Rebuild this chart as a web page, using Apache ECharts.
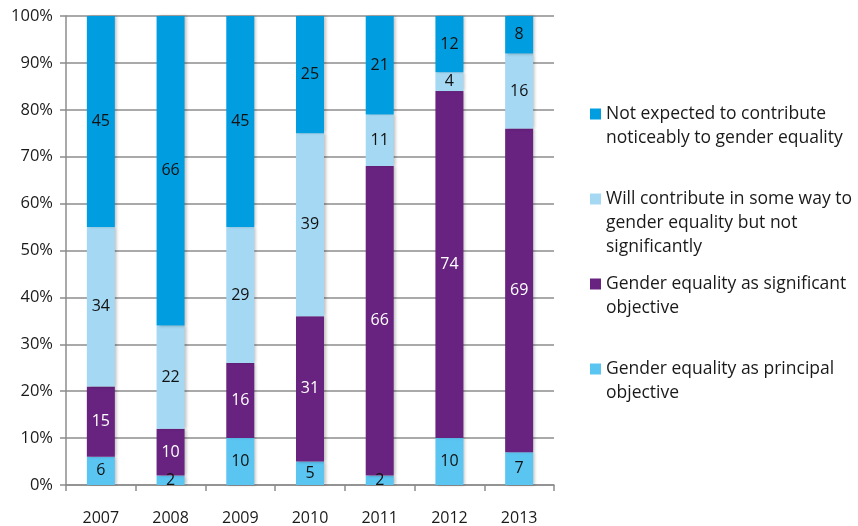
<!DOCTYPE html>
<html>
<head>
<meta charset="utf-8">
<script src="https://cdn.jsdelivr.net/npm/echarts@6/dist/echarts.min.js"></script>
<style>
  html, body { margin: 0; padding: 0; background: #fff; }
  #chart { width: 858px; height: 526px; }
</style>
</head>
<body>
<div id="chart"></div>
<script>
const years = ['2007', '2008', '2009', '2010', '2011', '2012', '2013'];
const principal = [6, 2, 10, 5, 2, 10, 7];
const significant = [15, 10, 16, 31, 66, 74, 69];
const someWay = [34, 22, 29, 39, 11, 4, 16];
const notExpected = [45, 66, 45, 25, 21, 12, 8];
const yTicks = [0, 10, 20, 30, 40, 50, 60, 70, 80, 90, 100];

const names = [
  'Gender equality as principal\nobjective',
  'Gender equality as significant\nobjective',
  'Will contribute in some way to\ngender equality but not\nsignificantly',
  'Not expected to contribute\nnoticeably to gender equality'
];
const colors = ['#5bc5f2', '#68227f', '#a4d8f3', '#009ee0'];
const labelColors = ['#111', '#fff', '#111', '#111'];
const values = [principal, significant, someWay, notExpected];

const font = '"Open Sans", "Noto Sans", sans-serif';

const chart = echarts.init(document.getElementById('chart'));

// one legend per entry so the marker sits beside the first text line
const legendTops = [368, 283, 198, 113];
function legendFor(i) {
  const lines = names[i].split('\n').length;
  // pad with blank lines so the first line is the vertical middle
  const pad = '\n'.repeat(lines - 1);
  return {
    data: [names[i]],
    left: 585,
    top: legendTops[i] - 12 * (2 * lines - 1) - 4,
    orient: 'vertical',
    itemWidth: 11,
    itemHeight: 11,
    itemGap: 0,
    icon: 'rect',
    selectedMode: false,
    formatter: name => pad + name,
    textStyle: { fontFamily: font, fontSize: 17.5, color: '#1a1a1a', lineHeight: 24 }
  };
}

const option = {
  animation: false,
  grid: { left: 66, right: 304, top: 16, bottom: 40, containLabel: false },
  legend: [legendFor(3), legendFor(2), legendFor(1), legendFor(0)],
  xAxis: {
    type: 'category',
    data: years,
    axisLine: { lineStyle: { color: '#8c8c8c', width: 1.5 } },
    axisTick: { show: true, length: 6, lineStyle: { color: '#8c8c8c', width: 1.5 } },
    axisLabel: { fontFamily: font, fontSize: 16, color: '#1a1a1a', margin: 25 }
  },
  yAxis: {
    type: 'value',
    min: 0,
    max: 100,
    interval: 10,
    axisLine: { show: true, lineStyle: { color: '#8c8c8c', width: 1.5 } },
    axisTick: { show: true, length: 6, lineStyle: { color: '#8c8c8c', width: 1.5 } },
    splitLine: { lineStyle: { color: '#8c8c8c', width: 1.5 } },
    axisLabel: {
      fontFamily: font, fontSize: 16.5, color: '#1a1a1a', margin: 13,
      formatter: v => (yTicks.includes(v) ? v + '%' : '')
    }
  },
  series: values.map((vals, i) => ({
    name: names[i],
    type: 'bar',
    stack: 'total',
    barWidth: 28,
    data: vals,
    itemStyle: {
      color: colors[i],
      shadowColor: 'rgba(0,0,0,0.25)',
      shadowBlur: 3,
      shadowOffsetX: 2
    },
    label: {
      show: true,
      position: 'inside',
      fontFamily: font,
      fontSize: 16,
      color: labelColors[i]
    }
  }))
};

chart.setOption(option);
</script>
</body>
</html>
